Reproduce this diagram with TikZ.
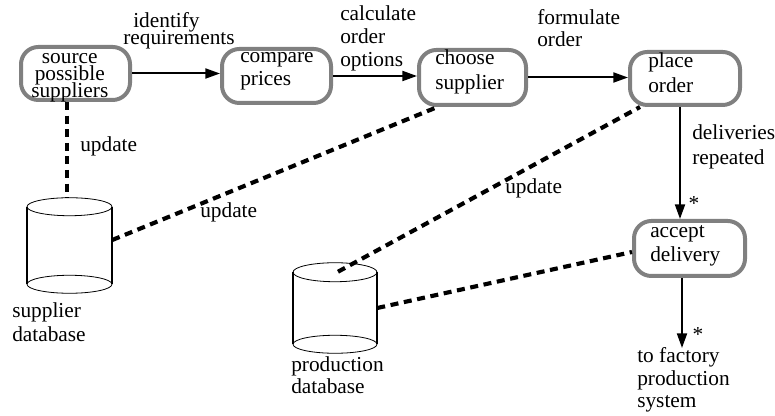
\documentclass[tikz,border=0pt]{standalone}
\usepackage{fontspec}
\setmainfont{Liberation Serif}
\usetikzlibrary{arrows.meta,calc}
\newcommand{\fz}[1]{\fontsize{16pt}{#1}\selectfont\lineskiplimit=-30pt\relax}
\begin{document}
\begin{tikzpicture}[x=0.75pt,y=-0.75pt,
  procbox/.style={draw=boxgray, line width=3pt, rounded corners=13pt, inner sep=0pt},
  dbnode/.style={draw=none, inner sep=0pt, minimum width=#1},
  txt/.style={font=\fz{17.25pt}, inner sep=0pt, align=left, anchor=base west},
  arr/.style={line width=1.5pt, -{Triangle[length=11pt,width=7.5pt]}},
  updline/.style={line width=3.1pt, dash pattern=on 6pt off 4.2pt},
  cyl/.style={line width=0.6pt},
  cylside/.style={line width=1.4pt}]
\definecolor{boxgray}{RGB}{128,128,128}
\useasboundingbox (0,0) rectangle (775,416);

% process boxes
\node[procbox, minimum width=109*0.75pt, minimum height=53*0.75pt] (src) at (75.5,73.5) {};
\node[procbox, minimum width=109*0.75pt, minimum height=54*0.75pt] (cmp) at (276.5,76) {};
\node[procbox, minimum width=107*0.75pt, minimum height=55*0.75pt] (cho) at (472.5,77.5) {};
\node[procbox, minimum width=110*0.75pt, minimum height=53*0.75pt] (plc) at (685,78.5) {};
\node[procbox, minimum width=111*0.75pt, minimum height=55*0.75pt] (acc) at (689.5,248.5) {};

% box texts (positions are the baseline of the last line)
\node[txt, align=center, font=\fz{13.1pt}] (tsrc) at (31,98) {source\\possible\\suppliers};
\node[txt, font=\fz{17.25pt}] (tcmp) at (240,86) {compare\\prices};
\node[txt, font=\fz{18.75pt}] (tcho) at (435,90) {choose\\supplier};
\node[txt, font=\fz{18.75pt}] (tplc) at (648,93) {place\\order};
\node[txt, font=\fz{18pt}] (tacc) at (650,262) {accept\\delivery};

% databases
\node[dbnode=85*0.75pt, minimum height=95*0.75pt] (sdb) at (69.5,245.5) {};
\node[dbnode=84*0.75pt, minimum height=90*0.75pt] (pdb) at (335,308) {};
\draw[cyl] ($(sdb.north)+(0,9)$) ellipse [x radius=42.5*0.75pt, y radius=9*0.75pt];
\draw[cyl] ($(sdb.south)+(0,-9)$) ellipse [x radius=42.5*0.75pt, y radius=9*0.75pt];
\draw[cylside] ($(sdb.north west)+(0,9)$) -- ($(sdb.south west)+(0,-9)$);
\draw[cylside] ($(sdb.north east)+(0,9)$) -- ($(sdb.south east)+(0,-9)$);
\draw[cyl] ($(pdb.north)+(0,9.5)$) ellipse [x radius=42*0.75pt, y radius=9.5*0.75pt];
\draw[cyl] ($(pdb.south)+(0,-9)$) ellipse [x radius=42*0.75pt, y radius=9*0.75pt];
\draw[cylside] ($(pdb.north west)+(0,9.5)$) -- ($(pdb.south west)+(0,-9)$);
\draw[cylside] ($(pdb.north east)+(0,9.5)$) -- ($(pdb.south east)+(0,-9)$);
\node[txt, font=\fz{18pt}] (lsdb) at (12,342) {supplier\\database};
\node[txt, font=\fz{16.5pt}] (lpdb) at (291,394) {production\\database};

% flow arrows
\draw[arr] (src.east) -- (src.east -| cmp.west);
\draw[arr] (cmp.east) -- (cmp.east -| cho.west);
\draw[arr] (cho.east) -- (cho.east -| plc.west);
\draw[arr] ($(plc.south)+(-5,0)$) -- ($(acc.north)+(-9.5,0)$);
\coordinate (facin) at (682,348);
\draw[arr] ($(acc.south)+(-7.5,0)$) -- (facin);

% flow labels
\node[txt, font=\fz{12.75pt}] (lid) at (123,45) {\hspace*{7.5pt}identify\\requirements};
\node[txt, font=\fz{17.6pt}] (lcalc) at (340,67) {calculate\\order\\options};
\node[txt, font=\fz{16.5pt}] (lform) at (537,47) {formulate\\order};
\node[txt, font=\fz{18.75pt}] (ldel) at (692,165) {deliveries\\repeated};
\node[txt, anchor=base] (st1) at (694,211) {*};
\node[txt, anchor=base] (st2) at (698,342) {*};
\node[txt, font=\fz{16.9pt}] (lfac) at (637,408) {to factory\\production\\system};

% update links
\draw[updline] ($(src.south)+(-8.5,0)$) -- ($(sdb.north)+(-2.5,0)$);
\draw[updline] ($(sdb.east)+(0,-5.5)$) -- ($(cho.south west)+(18,1)$);
\draw[updline] ($(pdb.north)+(3,9)$) -- ($(plc.south west)+(12,0)$);
\draw[updline] (pdb.east) -- ($(acc.west)+(0,3.5)$);
\node[txt] (u1) at (80,152) {update};
\node[txt] (u2) at (200,218) {update};
\node[txt] (u3) at (505,194) {update};
\end{tikzpicture}
\end{document}
